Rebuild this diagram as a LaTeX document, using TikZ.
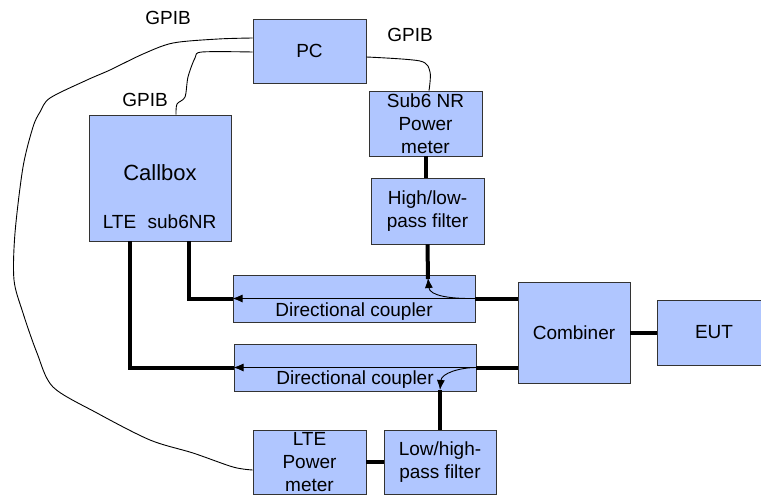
\documentclass[tikz,border=0pt]{standalone}
\usepackage{fontspec}
\setmainfont{Liberation Sans}
\usetikzlibrary{arrows.meta}
\definecolor{boxblue}{RGB}{176,198,255}

\begin{document}
\begin{tikzpicture}[x=1pt,y=1pt,
  font=\fontsize{19}{23}\selectfont,
  box/.style={rectangle,draw=black!80,line width=0.9pt,fill=boxblue,inner sep=0pt,align=center},
  coax/.style={line width=4pt},
  gpib/.style={line width=0.9pt},
  couple/.style={line width=0.9pt,-{Latex[length=10pt,width=8pt]}}]
  \useasboundingbox (0,0) rectangle (761,-496);
  \node[box,minimum width=113pt,minimum height=64pt] (pc) at (309.5,-51) {PC};
  \node[box,minimum width=142pt,minimum height=126pt] (callbox) at (160,-178) {};
  \node[box,minimum width=113pt,minimum height=65pt] (nrpm) at (425.5,-123.5) {Sub6 NR\\Power\\meter};
  \node[box,minimum width=113pt,minimum height=66pt] (hl) at (427.5,-211) {High/low-\\pass filter};
  \node[box,minimum width=242pt,minimum height=47pt] (dc1) at (354,-298.5) {};
  \node[box,minimum width=242pt,minimum height=47pt] (dc2) at (355,-367.5) {};
  \node[box,minimum width=112pt,minimum height=101pt] (comb) at (574,-332.5) {Combiner};
  \node[box,minimum width=114pt,minimum height=65pt] (eut) at (714,-332.5) {EUT};
  \node[box,minimum width=113pt,minimum height=64pt] (ltepm) at (309.5,-462) {LTE\\Power\\meter};
  \node[box,minimum width=112pt,minimum height=64pt] (lh) at (440,-462) {Low/high-\\pass filter};

  % texts
  \node[font=\fontsize{22}{26}\selectfont] (cbname) at (160,-173) {Callbox};
  \node (lteport) at (119.5,-222) {LTE};
  \node (nrport) at (182,-222) {sub6NR};
  \node (dc1name) at (354,-312) {Directional coupler};
  \node (dc2name) at (355,-380) {Directional coupler};
  \node (gpib1) at (168,-18) {GPIB};
  \node (gpib2) at (145,-100) {GPIB};
  \node (gpib3) at (410,-35) {GPIB};

  \coordinate (tap1) at (428,-278);
  \coordinate (tap2) at (440,-390);

  % couplers
  \draw[couple] (dc1.east) -- (dc1.west);
  \draw[couple] (dc2.east) -- (dc2.west);
  \draw[couple] ([xshift=-6pt]dc1.east) to[out=180,in=-85] (tap1);
  \draw[couple] (dc2.east) to[out=180,in=85] (tap2);

  % coax
  \draw[coax] (nrpm.south) -- (nrpm.south |- hl.north);
  \draw[coax] (hl.south) -- ([yshift=-1pt]tap1);
  \draw[coax] (dc1.east) -- (dc1.east -| comb.west);
  \draw[coax] (dc2.east) -- (dc2.east -| comb.west);
  \draw[coax] (comb.east) -- (eut.west);
  \draw[coax] ([xshift=29pt]callbox.south) |- (dc1.west);
  \draw[coax] ([xshift=-30pt]callbox.south) |- (dc2.west);
  \draw[coax] (tap2) -- (lh.north);
  \draw[coax] (ltepm.east) -- (lh.west);

  % GPIB
  \draw[gpib] plot[smooth,tension=0.5] coordinates {([yshift=13pt]pc.west) (218,-39) (173,-43)
    (143,-54) (110,-70) (87,-80) (50,-98) (40,-112) (33,-127) (23,-167) (15,-233) (14,-280)
    (23,-313) (37,-353) (53,-387) (97,-413) (150,-440) (193,-453) (233,-467) ([yshift=-8pt]ltepm.west)};
  \draw[gpib] plot[smooth,tension=0.5] coordinates {([yshift=-1pt]pc.west) (202,-52) (195,-58)
    (188,-77) (185,-97) (177,-104) ([xshift=16pt]callbox.north)};
  \draw[gpib] plot[smooth,tension=0.5] coordinates {([yshift=-6pt]pc.east) (420,-61) (430,-72)
    ([xshift=3.5pt]nrpm.north)};
\end{tikzpicture}
\end{document}
